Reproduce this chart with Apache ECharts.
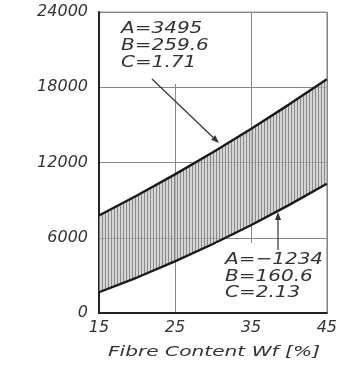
<!DOCTYPE html>
<html>
<head>
<meta charset="utf-8">
<script src="https://cdn.jsdelivr.net/npm/echarts@6/dist/echarts.min.js"></script>
<style>
  html, body { margin: 0; padding: 0; background: #fff; }
  #chart { width: 340px; height: 367px; }
</style>
</head>
<body>
<div id="chart"></div>
<script>
// Fibre content (%) and the bounding strength curves y = A + B*Wf + C*Wf^2
const fibreContent = [15, 20, 25, 30, 35, 40, 45];
const upperBound = [7774, 9371, 11054, 12822, 14676, 16615, 18640];
const lowerBound = [1654, 2830, 4112, 5501, 6996, 8598, 10306];
const xTicks = { min: 15, max: 45, interval: 10 };
const yTicks = { min: 0, max: 24000, interval: 6000 };
const upperLabel = ['A=3495', 'B=259.6', 'C=1.71'];
const lowerLabel = ['A=\u22121234', 'B=160.6', 'C=2.13'];
const axisTitle = 'Fibre Content Wf [%]';

// vertical hatching for the band between the two curves
function hatchPattern() {
  const c = document.createElement('canvas');
  c.width = 3; c.height = 6;
  const g = c.getContext('2d');
  g.fillStyle = 'rgba(195,195,195,0.7)';
  g.fillRect(0, 0, 3, 6);
  g.fillStyle = 'rgba(105,105,105,0.7)';
  g.fillRect(0, 0, 1, 6);
  return c;
}
const hatch = hatchPattern();

const pairs = (ys) => fibreContent.map((x, i) => [x, ys[i]]);

const FONT = '"DejaVu Sans", sans-serif';
const TXT = '#333';

const chart = echarts.init(document.getElementById('chart'), null, { renderer: 'canvas' });

function labelBlock(lines, x, y0, step) {
  return lines.map((t, i) => ({
    type: 'text', x: x, y: y0 + i * step, scaleX: 1.25, z: 20,
    style: { text: t, font: 'italic 16px ' + FONT, fill: TXT, textAlign: 'left', textVerticalAlign: 'middle' }
  }));
}

function arrow(x1, y1, x2, y2, color) {
  const a = Math.atan2(y2 - y1, x2 - x1), L = 8, W = 3;
  const bx = x2 - L * Math.cos(a), by = y2 - L * Math.sin(a);
  const nx = -Math.sin(a) * W, ny = Math.cos(a) * W;
  return [
    { type: 'line', z: 20, shape: { x1: x1, y1: y1, x2: bx, y2: by }, style: { stroke: color, lineWidth: 1.2 } },
    { type: 'polygon', z: 20, shape: { points: [[x2, y2], [bx + nx, by + ny], [bx - nx, by - ny]] }, style: { fill: color } }
  ];
}

// hatched band: one polygon running along the upper curve and back along the lower one
function renderBand(params, api) {
  const top = fibreContent.map((x, i) => api.coord([x, upperBound[i]]));
  const bottom = fibreContent.map((x, i) => api.coord([x, lowerBound[i]])).reverse();
  return {
    type: 'polygon',
    shape: { points: top.concat(bottom) },
    style: { fill: { image: hatch, repeat: 'repeat' } }
  };
}

chart.setOption({
  animation: false,
  backgroundColor: '#fff',
  grid: { left: 99, top: 12, width: 228, height: 301, show: true, borderColor: '#999', borderWidth: 1, backgroundColor: 'transparent' },
  xAxis: {
    type: 'value', min: xTicks.min, max: xTicks.max, interval: xTicks.interval,
    axisLine: { show: true, onZero: false, lineStyle: { color: '#222', width: 2 } },
    axisTick: { show: false },
    splitLine: { show: true, lineStyle: { color: '#888', width: 1 } },
    axisLabel: { fontFamily: FONT, fontStyle: 'italic', fontSize: 16, color: TXT, margin: 7, formatter: (v) => String(v) }
  },
  yAxis: {
    type: 'value', min: yTicks.min, max: yTicks.max, interval: yTicks.interval,
    axisLine: { show: true, lineStyle: { color: '#222', width: 2 } },
    axisTick: { show: false },
    splitLine: { show: true, lineStyle: { color: '#888', width: 1 } },
    axisLabel: { fontFamily: FONT, fontStyle: 'italic', fontSize: 16, color: TXT, margin: 11, formatter: (v) => String(v) }
  },
  series: [
    {
      name: 'band', type: 'custom', data: [[fibreContent[0], upperBound[0]]],
      renderItem: renderBand, silent: true, z: 3
    },
    {
      name: 'lower', type: 'line', data: pairs(lowerBound),
      showSymbol: false, lineStyle: { color: '#1a1a1a', width: 2.4 }, z: 5
    },
    {
      name: 'upper', type: 'line', data: pairs(upperBound),
      showSymbol: false, lineStyle: { color: '#1a1a1a', width: 2.4 }, z: 5
    }
  ],
  graphic: [
    // clear patches behind the two parameter blocks
    { type: 'rect', z: 10, shape: { x: 101, y: 13, width: 147, height: 71 }, style: { fill: '#fff' } },
    { type: 'rect', z: 10, shape: { x: 216, y: 243, width: 110, height: 69 }, style: { fill: '#fff' } },
    ...labelBlock(upperLabel, 121, 29, 17),
    ...labelBlock(lowerLabel, 225, 260, 16.5),
    ...arrow(152, 79, 219, 143, '#333'),
    ...arrow(278, 250, 278, 212, '#333'),
    {
      type: 'text', x: 108, y: 352, scaleX: 1.44, z: 20,
      style: { text: axisTitle, font: 'italic 14px ' + FONT, fill: TXT, textAlign: 'left', textVerticalAlign: 'middle' }
    }
  ]
});
</script>
</body>
</html>
